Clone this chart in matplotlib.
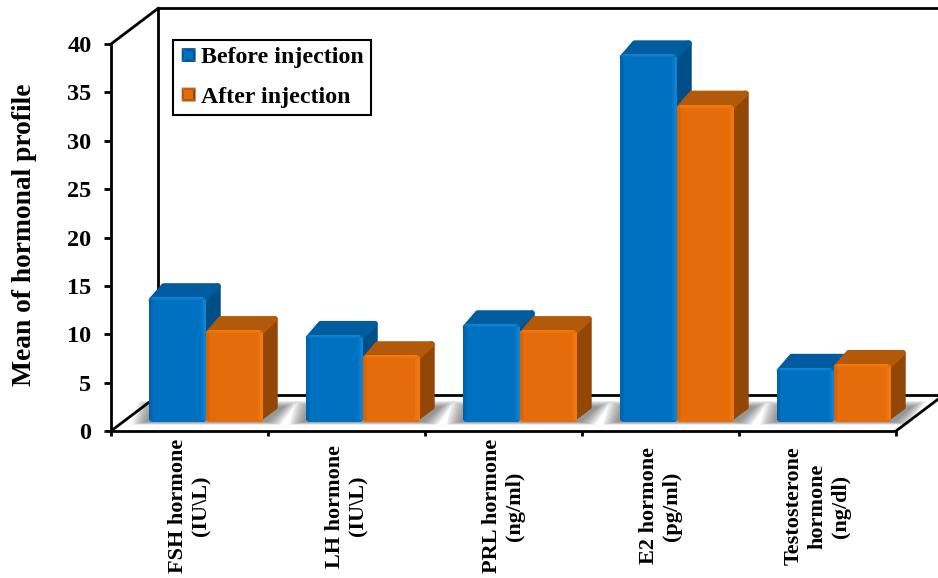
import matplotlib

matplotlib.use("Agg")
import matplotlib.pyplot as plt
from matplotlib.legend_handler import HandlerBase
from matplotlib.patches import Patch, Polygon, Rectangle

categories = [
    "FSH hormone\n(IU\\L)",
    "LH hormone\n(IU\\L)",
    "PRL hormone\n(ng/ml)",
    "E2 hormone\n(pg/ml)",
    "Testosterone\nhormone\n(ng/dl)",
]
before = [12.8, 8.9, 10.0, 37.9, 5.5]
after = [9.4, 6.8, 9.4, 32.7, 5.9]
y_ticks = [0, 5, 10, 15, 20, 25, 30, 35, 40]

series_names = ["Before injection", "After injection"]

BLUE = {"front": "#0070c0", "light": "#1a8fe0", "dark": "#00579a", "top": "#005c9f", "side": "#004e86"}
ORANGE = {"front": "#e46c0a", "light": "#ff8412", "dark": "#c55c08", "top": "#b25a0a", "side": "#934707"}

# oblique projection, in data units
WALL_DX = 0.30
WALL_DY = 3.68
BAR_DX = 0.096
BAR_DY = 1.45
BAR_W = 0.363
BAR_START = 0.24
BASE_Y = 1.03
RX = 3 / 157
RY = 3 / 9.675


def add_poly(ax, pts, color, z, lw=0.0, alpha=None):
    p = Polygon(pts, closed=True, facecolor=color, edgecolor=color if lw else "none", lw=lw,
                joinstyle="round", clip_on=False, zorder=z, alpha=alpha)
    ax.add_patch(p)


def draw_bar(ax, x, value, st, z):
    top = BASE_Y + value
    r = x + BAR_W
    back_r = r + BAR_DX - RX
    back_t = top + BAR_DY - RY
    add_poly(ax, [(r - RX, BASE_Y + RY), (back_r, BASE_Y + BAR_DY), (back_r, back_t), (r - RX, top - RY)],
             st["side"], z, 4.3)
    add_poly(ax, [(x + RX, top - RY), (x + BAR_DX, back_t), (back_r, back_t), (r - RX, top - RY)],
             st["top"], z, 4.3)
    add_poly(ax, [(x + RX, BASE_Y + RY * 0.7), (r - RX, BASE_Y + RY * 0.7), (r - RX, top - RY), (x + RX, top - RY)],
             st["front"], z + 0.1, 4.3)
    # soft bevels on the front face
    for k in range(1, 4):
        w = k * 1.5 / 157
        h = k * 1.0 / 9.675
        add_poly(ax, [(x, BASE_Y + RY / 2), (x + w, BASE_Y + RY / 2), (x + w, top - RY), (x, top - RY)],
                 st["dark"], z + 0.2, alpha=0.22)
        add_poly(ax, [(r - w, BASE_Y + RY / 2), (r, BASE_Y + RY / 2), (r, top - RY), (r - w, top - RY)],
                 st["light"], z + 0.2, alpha=0.28)
        add_poly(ax, [(x + RX, top - h), (r - RX, top - h), (r - RX, top), (x + RX, top)],
                 st["light"], z + 0.2, alpha=0.28)


def draw_shadow(ax, x0, x1):
    # soft shadow on the floor, built from stacked translucent shapes
    for k in range(8):
        gx = 0.012 * k
        gy = 0.2 * k
        low = BASE_Y - 0.1 - gy * 0.2
        high = BASE_Y + 1.5 + gy * 0.4
        add_poly(ax, [(x0 - gx - 0.02, low), (x1 + gx + 0.03, low), (x1 + 0.14 + gx, high), (x0 + 0.02 - gx, high)],
                 "#505050", 2, alpha=0.1)


class BevelHandler(HandlerBase):
    def create_artists(self, legend, orig, xd, yd, w, h, fontsize, trans):
        st = BLUE if orig.get_label() == series_names[0] else ORANGE
        cx, cy = w / 2 - xd, h / 2 - yd
        s = 5.0
        x0, x1, y0, y1 = cx - s, cx + s, cy - s, cy + s
        c = (cx, cy)
        out = []
        for pts, col in [([(x0, y0), (x0, y1), c], st["top"]), ([(x0, y1), (x1, y1), c], st["dark"]),
                         ([(x1, y1), (x1, y0), c], st["side"]), ([(x1, y0), (x0, y0), c], st["top"])]:
            out.append(Polygon(pts, closed=True, facecolor=col, edgecolor="none", transform=trans))
        out.append(Rectangle((x0 + 2, y0 + 2), 2 * s - 4, 2 * s - 4, facecolor=st["front"], edgecolor="none",
                             transform=trans))
        return out


def main():
    plt.rcParams["font.family"] = ["Liberation Serif", "DejaVu Serif"]
    plt.rcParams["font.weight"] = "bold"

    fig = plt.figure(figsize=(9.38, 5.78), dpi=100, facecolor="white")
    ax = fig.add_axes([111 / 938, (578 - 431) / 578, (896 - 111) / 938, (431 - 44) / 578])
    n = len(categories)
    ax.set_xlim(0, n)
    ax.set_ylim(0, 40)
    ax.patch.set_visible(False)

    for s in ["top", "right"]:
        ax.spines[s].set_visible(False)
    for s in ["left", "bottom"]:
        ax.spines[s].set_linewidth(2.0)
        ax.spines[s].set_zorder(30)
        ax.spines[s].set_capstyle("projecting")

    # floor and walls
    add_poly(ax, [(0, 0), (n, 0), (n + WALL_DX, WALL_DY), (WALL_DX, WALL_DY)], "white", 1)
    wall = dict(color="black", lw=2.0, clip_on=False, zorder=3, solid_capstyle="projecting")
    ax.plot([0, WALL_DX], [0, WALL_DY], **wall)
    ax.plot([n, n + WALL_DX], [0, WALL_DY], **wall)
    ax.plot([WALL_DX, n + WALL_DX], [WALL_DY, WALL_DY], **wall)
    ax.plot([WALL_DX, WALL_DX], [WALL_DY, 40 + WALL_DY], **wall)
    ax.plot([0, WALL_DX], [40, 40 + WALL_DY], **wall)
    ax.plot([WALL_DX, n + WALL_DX], [40 + WALL_DY, 40 + WALL_DY], **wall)

    for i in range(n):
        x = i + BAR_START
        draw_shadow(ax, x, x + 2 * BAR_W)
        draw_bar(ax, x, before[i], BLUE, 5 + i)
        draw_bar(ax, x + BAR_W, after[i], ORANGE, 5.5 + i)

    ax.set_yticks(y_ticks)
    ax.tick_params(axis="y", which="major", length=5, width=2, pad=9, labelsize=17.5)
    ax.set_xticks(range(n + 1))
    ax.set_xticklabels([])
    ax.tick_params(axis="x", which="major", length=3.5, width=2)
    ax.set_xticks([i + 0.5 for i in range(n)], minor=True)
    ax.set_xticklabels(categories, minor=True, rotation=90, fontsize=16, ha="center", va="center",
                       linespacing=1.25, multialignment="center")
    ax.tick_params(axis="x", which="minor", length=0, pad=54)

    fig.text(25 / 938, 1 - 235 / 578, "Mean of hormonal profile", rotation=90, fontsize=19.8,
             ha="center", va="center")

    handles = [Patch(label=series_names[0]), Patch(label=series_names[1])]
    leg = ax.legend(handles=handles, handler_map={Patch: BevelHandler()}, loc="upper left",
                    bbox_to_anchor=(173 / 938, 1 - 40 / 578), bbox_transform=fig.transFigure,
                    frameon=True, fancybox=False, framealpha=1, edgecolor="black",
                    borderaxespad=0, handlelength=0.75, handletextpad=0.15, labelspacing=0.745,
                    borderpad=0.28, prop={"size": 17.2, "weight": "bold"})
    leg.get_frame().set_linewidth(1.5)
    leg.set_zorder(40)

    fig.savefig("out.png", dpi=100, facecolor="white")


if __name__ == "__main__":
    main()
